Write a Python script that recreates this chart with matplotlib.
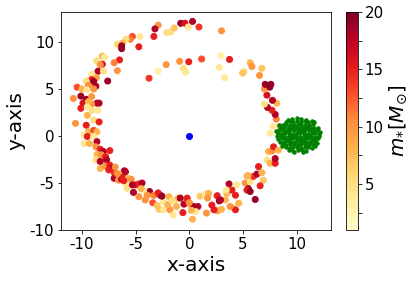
import matplotlib
matplotlib.use("Agg")
import matplotlib.pyplot as plt
import numpy as np

plt.rcParams["axes.unicode_minus"] = False

# outer ring (x, y, stellar mass)
top_x = [-2.9, -0.8, -0.4, -0.1, -3.2, -3.3, -2.1, -1.7, -1.4, -4.6, -4.7, 3.0, 0.9, 0.3]
top_y = [11.8, 12.0, 12.0, 11.6, 11.4, 10.6, 11.0, 11.1, 11.5, 10.6, 9.5, 11.2, 11.6, 12.2]
top_m = [10, 19, 16, 4, 18, 15, 5, 5, 7, 4, 15, 10, 14, 18]

left_x = [-5.3, -5.5, -5.9, -6.2, -6.7, -6.3, -6.3, -6.5, -7.0, -6.7,
          -7.6, -8.1, -7.9, -8.65, -8.1, -8.3, -8.5, -8.0, -9.1, -8.65,
          -9.1, -9.6, -8.9, -9.4, -8.7, -10.45, -10.0, -9.55, -8.9, -10.8,
          -10.1, -9.6, -9.9, -8.6, -9.1, -9.1, -9.4, -8.4, -10.1, -9.5,
          -9.05, -8.5, -10.6, -9.5, -9.6, -8.9, -8.4, -9.4, -8.9, -8.6,
          -9.8, -9.5, -8.9, -8.6, -9.8, -9.3, -8.7, -8.3, -8.6, -8.0,
          -7.4, -8.2]
left_y = [10.6, 10.3, 10.3, 9.9, 9.75, 9.3, 9.6, 8.1, 7.8, 6.95,
          5.85, 8.5, 8.4, 8.0, 7.65, 7.6, 6.9, 6.9, 6.55, 6.2,
          6.0, 5.85, 5.8, 5.4, 5.3, 5.2, 5.0, 4.9, 5.0, 4.0,
          4.25, 3.9, 3.5, 3.5, 4.2, 3.4, 3.65, 3.5, 2.95, 3.1,
          2.75, 2.75, 1.35, 2.2, 1.15, 1.7, 1.5, 0.45, 0.6, 0.45,
          0.1, -0.05, -0.05, -0.6, -0.8, -0.8, -1.15, -1.4, -1.95, -1.65,
          -1.55, -2.0]
left_m = [13, 11, 5, 8, 6, 19, 19, 15, 11, 10,
          19, 8, 4, 5, 16, 10, 18, 5, 4, 9,
          15, 5, 19, 10, 18, 13, 8, 4, 10, 10,
          19, 19, 16, 18, 10, 10, 8, 18, 15, 4,
          5, 4, 10, 8, 15, 5, 15, 8, 13, 8,
          4, 15, 4, 18, 4, 8, 10, 15, 8, 18,
          15, 10]

bottom_x = [-7.8, -8.7, -8.3, -7.7, -8.3, -7.8, -7.4, -7.2, -7.0, -6.9,
            -6.05, -6.5, -7.0, -6.6, -6.3, -5.95, -6.2, -5.7, -5.4, -6.1,
            -5.8, -5.0, -4.7, -4.4, -5.2, -4.7, -3.9, -3.7, -4.1, -3.3,
            -3.4, -2.7, -2.9, -1.9, -2.4, -2.8, -2.4, -1.8, -1.5, -2.0,
            -1.3, -1.0, -0.5, -0.6, -0.2, 0.1, 0.4, 0.8, 0.6, 0.3,
            -7.5, -6.7, -5.95, -5.3, -4.25, -3.9, -2.55, -1.6, -0.84, -0.2,
            0.0, 0.2, -1.2, -3.0, -4.5]
bottom_y = [-2.2, -2.55, -2.7, -2.55, -3.45, -3.2, -3.1, -3.45, -3.9, -3.3,
            -3.7, -4.1, -4.5, -4.7, -4.6, -5.05, -4.4, -4.5, -4.6, -4.75,
            -5.55, -5.2, -5.1, -5.0, -6.0, -6.45, -6.1, -5.9, -6.8, -6.3,
            -7.1, -6.3, -6.05, -6.45, -7.0, -7.8, -7.85, -7.85, -8.4, -7.3,
            -6.8, -6.6, -7.25, -8.15, -6.75, -7.3, -7.5, -7.5, -8.05, -8.85,
            -3.6, -4.0, -3.8, -5.2, -5.75, -6.3, -6.4, -6.9, -6.6, -6.6,
            -7.1, -7.9, -7.5, -7.4, -5.6]
bottom_m = [15, 5, 18, 18, 8, 10, 15, 18, 14, 10,
            18, 8, 18, 10, 18, 4, 15, 8, 10, 15,
            5, 15, 15, 18, 18, 10, 8, 19, 10, 11,
            13, 19, 15, 8, 4, 7, 4, 10, 4, 8,
            5, 8, 18, 15, 13, 8, 19, 18, 4, 8,
            15, 10, 18, 18, 4, 10, 19, 5, 18, 15,
            10, 8, 8, 7, 8]

right_x = [1.0, 1.5, 1.8, 1.7, 2.6, 2.8, 2.1, 2.6, 1.6, 3.35,
           3.5, 3.7, 4.4, 4.3, 4.6, 4.0, 4.3, 5.4, 5.2, 5.5,
           3.8, 2.3, 3.0, 3.97, 3.44, 2.9, 5.67, 5.37, 5.67, 6.14,
           5.98, 5.46, 6.9, 6.6, 6.3, 6.76, 6.45, 7.23, 7.53, 8.0,
           8.0, 7.38, 7.7, 7.85, 8.3, 8.47, 7.53, 7.8, 8.47, 8.1,
           8.0, 7.7, 7.28, 7.0, 8.15, 7.75, 7.23, 7.0, 7.07, 7.6,
           7.5, 6.54, 6.76, 5.1, 4.96, 5.67, 5.83]
right_y = [-6.4, -6.2, -6.1, -6.6, -6.35, -6.9, -7.35, -7.95, -8.2, -6.8,
           -6.1, -5.1, -5.2, -6.3, -7.15, -7.6, -7.85, -4.25, -5.0, -5.6,
           -7.5, -7.85, -7.8, -5.75, -5.75, -6.8, -4.85, -5.75, -5.9, -6.75,
           -4.3, -4.2, -4.7, -5.3, -4.05, -3.9, -3.25, -2.55, -2.9, -2.9,
           -2.4, -1.65, -1.6, -1.15, -1.5, 0.1, 0.3, 1.05, 1.0, 1.8,
           2.3, 2.75, 3.05, 3.4, 3.5, 3.8, 4.35, 5.0, 5.5, 5.5,
           5.2, 6.45, 7.2, 6.85, 6.7, 7.8, 7.4]
right_m = [7, 4, 8, 10, 15, 19, 15, 10, 10, 8,
           8, 18, 4, 15, 8, 7, 15, 10, 10, 19,
           10, 15, 8, 15, 4, 18, 5, 15, 19, 19,
           14, 8, 7, 15, 18, 8, 15, 5, 8, 15,
           18, 8, 10, 15, 8, 10, 4, 4, 10, 11,
           18, 15, 18, 5, 8, 18, 16, 10, 19, 19,
           19, 10, 7, 5, 7, 8, 10]

# inner stream
stream_x = [3.3, 2.8, 3.75, 2.95, 1.15, -0.05, -0.55, -0.35, -0.9, -2.15, -2.9, -3.75]
stream_y = [6.2, 7.3, 8.15, 8.55, 8.2, 7.9, 7.2, 6.8, 7.95, 7.6, 6.9, 6.15]
stream_m = [4, 4, 15, 3, 13, 15, 5, 4, 10, 10, 3, 14]

# companion cluster
cluster_x = [9.6, 10.0, 10.4, 10.9,
             9.0, 9.35, 9.7, 10.05, 10.4, 10.75, 11.1, 11.4,
             8.7, 9.05, 9.4, 9.75, 10.1, 10.45, 10.8, 11.15, 11.5,
             8.5, 8.85, 9.2, 9.55, 9.9, 10.25, 10.6, 10.95, 11.3, 11.65,
             8.35, 8.7, 9.05, 9.4, 9.75, 10.1, 10.45, 10.8, 11.15, 11.5, 11.85,
             8.25, 8.6, 8.95, 9.3, 9.65, 10.0, 10.35, 10.7, 11.05, 11.4, 11.75, 12.05,
             8.2, 8.55, 8.9, 9.25, 9.6, 9.95, 10.3, 10.65, 11.0, 11.35, 11.7, 12.1,
             8.3, 8.65, 9.0, 9.35, 9.7, 10.05, 10.4, 10.75, 11.1, 11.45, 11.8, 12.0,
             8.45, 8.8, 9.15, 9.5, 9.85, 10.2, 10.55, 10.9, 11.25, 11.6, 11.85,
             8.7, 9.05, 9.4, 9.75, 10.1, 10.45, 10.8, 11.15, 11.5,
             9.0, 9.35, 9.7, 10.05, 10.4, 10.75, 11.1, 11.4,
             9.3, 9.7, 10.1, 10.5, 10.9,
             8.1, 12.2, 9.2, 11.6, 8.6, 11.7, 9.8, 10.6, 8.4, 12.0]
cluster_y = [1.85, 1.9, 1.8, 1.75,
             1.5, 1.55, 1.5, 1.6, 1.5, 1.55, 1.45, 1.6,
             1.2, 1.25, 1.2, 1.15, 1.25, 1.2, 1.2, 1.15, 1.25,
             0.9, 0.95, 0.9, 0.85, 0.95, 0.9, 0.85, 0.95, 0.9, 0.85,
             0.6, 0.65, 0.55, 0.6, 0.65, 0.6, 0.55, 0.65, 0.6, 0.55, 0.65,
             0.3, 0.25, 0.35, 0.3, 0.25, 0.3, 0.35, 0.3, 0.25, 0.3, 0.35, 0.25,
             0.0, 0.05, -0.05, 0.0, 0.05, 0.0, -0.05, 0.0, 0.05, 0.0, -0.05, 0.0,
             -0.3, -0.25, -0.35, -0.3, -0.25, -0.3, -0.35, -0.3, -0.25, -0.3, -0.35, -0.2,
             -0.6, -0.65, -0.55, -0.6, -0.65, -0.6, -0.55, -0.65, -0.6, -0.55, -0.7,
             -0.9, -0.95, -0.85, -0.9, -0.95, -0.9, -0.85, -0.95, -0.9,
             -1.2, -1.25, -1.15, -1.2, -1.25, -1.2, -1.15, -1.3,
             -1.5, -1.55, -1.5, -1.45, -1.55,
             0.55, 0.45, 1.75, 1.45, -1.1, -1.05, -1.7, -1.7, 1.15, 0.9]

ring_x = top_x + left_x + bottom_x + right_x + stream_x
ring_y = top_y + left_y + bottom_y + right_y + stream_y
ring_m = top_m + left_m + bottom_m + right_m + stream_m

fig = plt.figure(figsize=(416 / 72, 282 / 72), dpi=72)
ax = fig.add_axes([61 / 416, 52 / 282, 270 / 416, 218 / 282])
cax = fig.add_axes([346 / 416, 52 / 282, 11.5 / 416, 218 / 282])

sc = ax.scatter(ring_x, ring_y, c=ring_m, cmap="YlOrRd", vmin=1, vmax=20, s=36)
ax.scatter([0], [0], color="blue", s=36)
ax.scatter(cluster_x, cluster_y, color="green", s=12)

ax.set_xlim(-11.95, 13.2)
ax.set_ylim(-10, 13.2)
ax.set_xticks([-10, -5, 0, 5, 10])
ax.set_yticks([-10, -5, 0, 5, 10])
ax.tick_params(labelsize=15)
ax.set_xlabel("x-axis", fontsize=20)
ax.set_ylabel("y-axis", fontsize=20)

cb = fig.colorbar(sc, cax=cax)
ticks = [2.5, 5, 7.5, 10, 12.5, 15, 17.5, 20]
cb.set_ticks(ticks)
cb.set_ticklabels([str(int(t)) if t % 5 == 0 else "" for t in ticks])
cb.ax.tick_params(labelsize=15)
cb.set_label(r"$m_{*}[M_{\odot}]$", fontsize=20)

fig.savefig("out.png", dpi=72)
